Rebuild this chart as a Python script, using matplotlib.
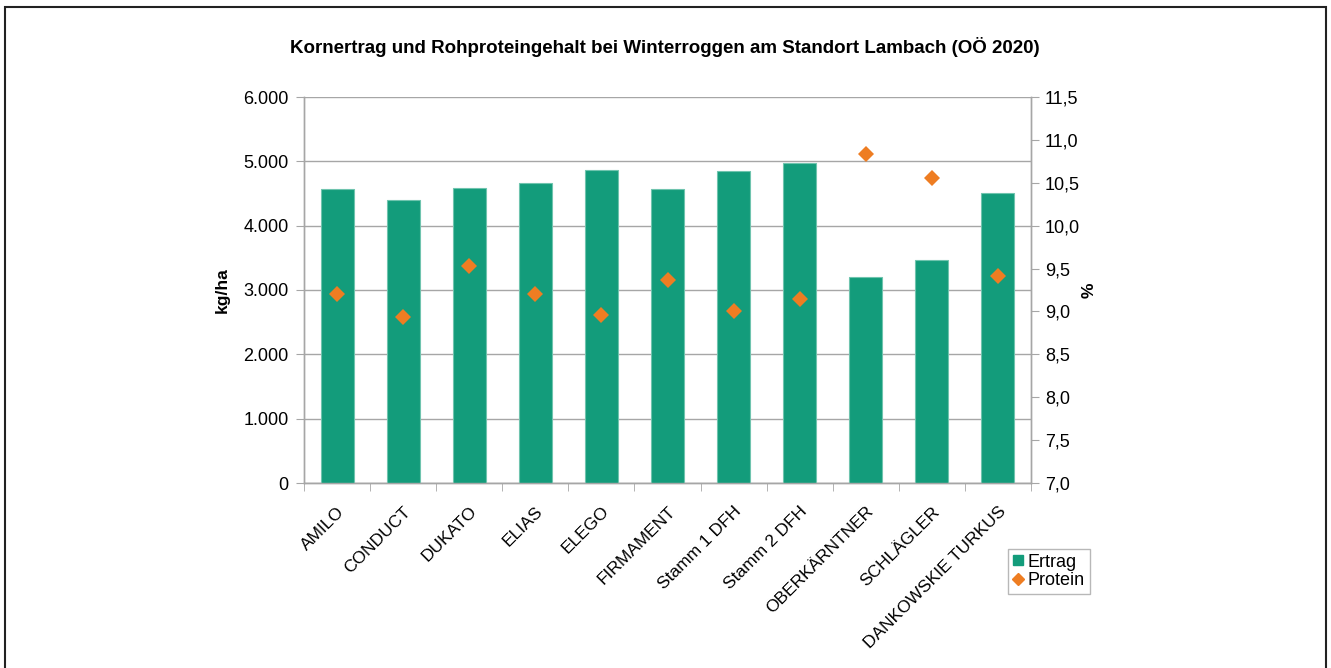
import numpy as np
import matplotlib
matplotlib.use('Agg')
import matplotlib.pyplot as plt
from matplotlib.lines import Line2D
from matplotlib.patches import Rectangle
from matplotlib.ticker import FuncFormatter

plt.rcParams['font.family'] = ['Liberation Sans', 'DejaVu Sans']

# DATA
sorten = ['AMILO', 'CONDUCT', 'DUKATO', 'ELIAS', 'ELEGO', 'FIRMAMENT',
          'Stamm 1 DFH', 'Stamm 2 DFH', 'OBERKÄRNTNER', 'SCHLÄGLER',
          'DANKOWSKIE TURKUS']
ertrag = [4566, 4394, 4591, 4668, 4861, 4566, 4850, 4974, 3200, 3466, 4508]
protein = [9.20, 8.94, 9.53, 9.20, 8.96, 9.37, 9.00, 9.14, 10.84, 10.56, 9.41]

green = '#139C7B'
orange = '#EE7D22'
grid = '#A6A6A6'

fig = plt.figure(figsize=(13.31, 6.68), dpi=100)
ax = fig.add_axes([304/1331, 1-483/668, 727/1331, 386/668])
ax2 = ax.twinx()

x = np.arange(len(sorten))
ax.bar(x, ertrag, width=0.5, color=green, edgecolor='#6FC4AE', linewidth=0.8, zorder=3)
ax2.plot(x, protein, 'D', color=orange, markersize=8.5, markeredgewidth=0, zorder=4)

# LEFT AXIS
ax.set_xlim(-0.5, len(sorten)-0.5)
ax.set_ylim(0, 6000)
ax.set_yticks(np.arange(0, 6001, 1000))
ax.yaxis.set_major_formatter(FuncFormatter(lambda v, p: '{:,.0f}'.format(v).replace(',', '.')))
ax.grid(axis='y', color=grid, linewidth=1, zorder=0)
ax.set_axisbelow(True)
ax.set_ylabel('kg/ha', fontsize=12.5, fontweight='bold', labelpad=10)

ax.set_xticks(x)
ax.set_xticklabels(sorten, rotation=45, ha='right', rotation_mode='anchor', fontsize=12.5)
ax.set_xticks(np.arange(-0.5, len(sorten), 1), minor=True)
ax.tick_params(axis='x', which='major', length=0, pad=15)
ax.tick_params(axis='x', which='minor', length=6, color=grid, direction='out')
ax.tick_params(axis='y', length=6, color=grid, labelsize=13, pad=5)

# RIGHT AXIS
ax2.set_ylim(7.0, 11.5)
ax2.set_yticks(np.arange(7.0, 11.51, 0.5))
ax2.yaxis.set_major_formatter(FuncFormatter(lambda v, p: '{:.1f}'.format(v).replace('.', ',')))
ax2.tick_params(axis='y', length=6, color=grid, labelsize=13, pad=4)
ax2.set_ylabel('%', fontsize=12.5, fontweight='bold', rotation=90, labelpad=1)

for a in (ax, ax2):
    a.spines['top'].set_visible(False)
    for s in ('left', 'right', 'bottom'):
        a.spines[s].set_color(grid)
        a.spines[s].set_linewidth(1)

fig.text(665/1331, 1-47/668, 'Kornertrag und Rohproteingehalt bei Winterroggen am Standort Lambach (OÖ 2020)',
         ha='center', va='center', fontsize=13.5, fontweight='bold')

handles = [Line2D([], [], marker='s', color=green, linestyle='none', markersize=7),
           Line2D([], [], marker='D', color=orange, linestyle='none', markersize=6)]
leg = fig.legend(handles, ['Ertrag', 'Protein'], loc='upper left',
                 bbox_to_anchor=(1008/1331, 1-549/668), fontsize=13, frameon=True,
                 fancybox=False, handlelength=0.6, handletextpad=0.25,
                 borderpad=0.25, labelspacing=0.1, borderaxespad=0)
leg.get_frame().set_edgecolor(grid)
leg.get_frame().set_linewidth(1)

# OUTER FRAME
fig.add_artist(Rectangle((5/1331, -0.05), 1321/1331, 1.05-7/668, transform=fig.transFigure,
                         fill=False, edgecolor='#222222', linewidth=1.5, clip_on=False))

fig.savefig('out.png', dpi=100)
